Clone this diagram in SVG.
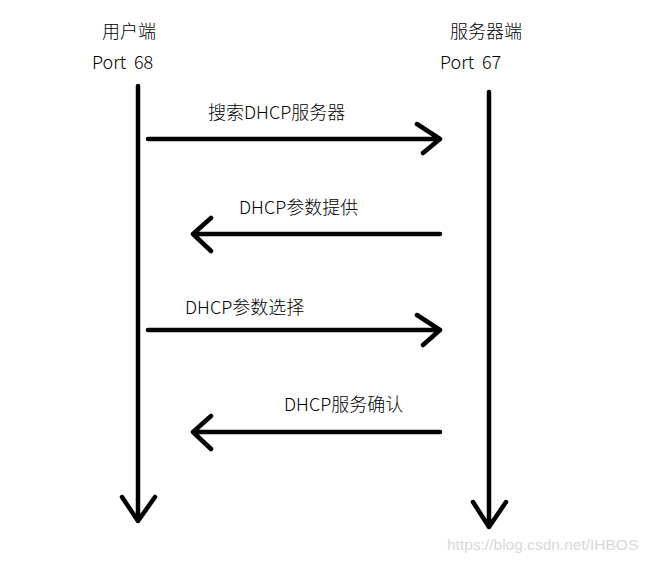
<svg xmlns="http://www.w3.org/2000/svg" width="650" height="562" viewBox="0 0 650 562">
<style>
.ln{stroke:#000;stroke-width:4.5;fill:none;stroke-linecap:round;stroke-linejoin:round}
.t{font-family:"Microsoft YaHei","Noto Sans CJK SC",sans-serif;font-size:18px;font-weight:300;fill:#000;white-space:pre}
.wm{font-family:"Liberation Sans",Arial,sans-serif;font-size:15.5px;fill:#d8d8d8}
</style>
<rect width="650" height="562" fill="#fff"/>
<g id="client">
<text class="t" x="129" y="38" text-anchor="middle">用户端</text>
<text class="t" x="92" y="69" xml:space="preserve">Port  68</text>
</g>
<g id="server">
<text class="t" x="486" y="38" text-anchor="middle">服务器端</text>
<text class="t" x="440" y="69" xml:space="preserve">Port  67</text>
</g>
<g id="connectors">
<path class="ln" d="M138,86 V521 M122,497 L138,521 L155,497"/>
<path class="ln" d="M489,92 V527 M473,502 L489,527 L506,502"/>
<path class="ln" d="M148,139 H440 M417,124 L440,139 L423,153"/>
<path class="ln" d="M440,234 H193 M211,218 L193,234 L211,251"/>
<path class="ln" d="M148,330 H440 M417,315 L440,330 L423,345"/>
<path class="ln" d="M440,432 H193 M211,416 L193,432 L211,449"/>
</g>
<g id="labels">
<text class="t" x="208" y="119">搜索DHCP服务器</text>
<text class="t" x="239" y="214">DHCP参数提供</text>
<text class="t" x="185" y="314">DHCP参数选择</text>
<text class="t" x="284" y="411">DHCP服务确认</text>
</g>
<text class="wm" x="447" y="550">https://blog.csdn.net/IHBOS</text>
</svg>
